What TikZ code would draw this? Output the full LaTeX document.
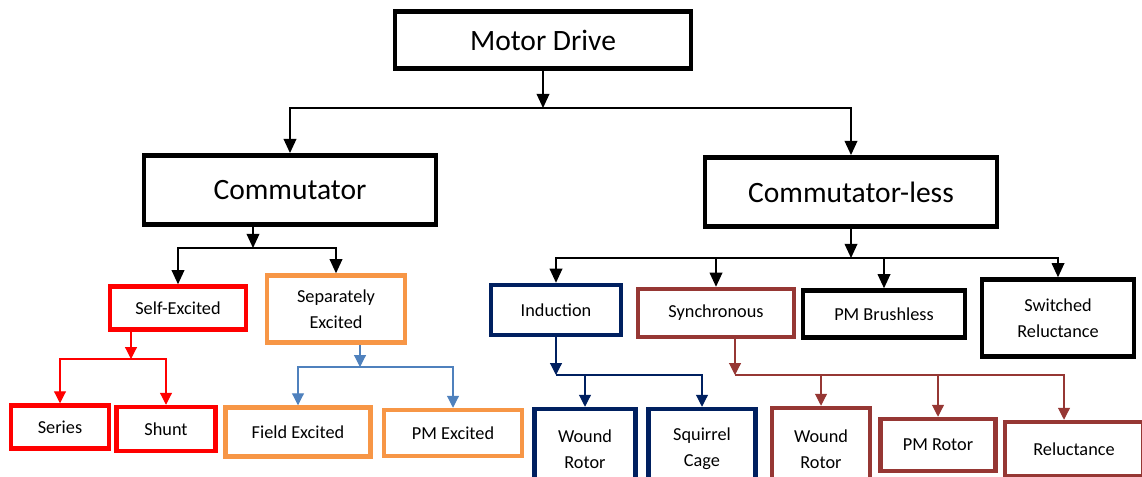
\documentclass[tikz,border=0pt]{standalone}
\usepackage{fontspec}
\setmainfont{Carlito}
\usetikzlibrary{arrows.meta}
\definecolor{selfred}{RGB}{255,0,0}
\definecolor{seporange}{RGB}{247,150,70}
\definecolor{sepblue}{RGB}{79,129,189}
\definecolor{indnavy}{RGB}{0,32,96}
\definecolor{synbrown}{RGB}{150,55,52}
\begin{document}
\begin{tikzpicture}[x=0.025cm,y=-0.025cm,
  bigbox/.style 2 args={draw,line width=3.5pt,inner sep=0pt,align=center,minimum width=#1*0.025cm,minimum height=#2*0.025cm,font=\fontsize{21}{25}\selectfont},
  smallbox/.style n args={3}{draw=#3,line width=3.2pt,inner sep=0pt,align=center,minimum width=#1*0.025cm,minimum height=#2*0.025cm,font=\fontsize{13}{18.5}\selectfont},
  blink/.style={line width=1pt,-{Triangle[length=10pt,width=9pt]}},
  clink/.style={draw=#1,line width=0.8pt,-{Triangle[length=8.5pt,width=8.5pt]}}]
\clip (0,0) rectangle (1142,476);
\node[bigbox={296}{57}] (drive) at (543,40) {Motor Drive};
\node[bigbox={292}{69}] (comm) at (290,190) {Commutator};
\node[bigbox={292}{69}] (cless) at (851,192) {Commutator-less};
\node[smallbox={136}{43}{selfred}] (self) at (178,308) {Self-Excited};
\node[smallbox={138}{67}{seporange}] (sep) at (336,309) {Separately\\Excited};
\node[smallbox={98}{43}{selfred}] (series) at (60,427) {Series};
\node[smallbox={99}{44}{selfred}] (shunt) at (166,429) {Shunt};
\node[smallbox={145}{49}{seporange}] (field) at (298,432) {Field Excited};
\node[smallbox={138}{46}{seporange}] (pmex) at (453,433) {PM Excited};
\node[smallbox={130}{50}{indnavy}] (ind) at (556,310) {Induction};
\node[smallbox={156}{48}{synbrown}] (syn) at (716,313) {Synchronous};
\node[smallbox={162}{47}{black}] (pmb) at (884,314) {PM Brushless};
\node[smallbox={152}{77}{black}] (swr) at (1058,318) {Switched\\Reluctance};
\node[smallbox={101}{80}{indnavy}] (wound1) at (585,449) {Wound\\Rotor};
\node[smallbox={107}{80}{indnavy}] (cage) at (702,449) {Squirrel\\Cage};
\node[smallbox={98}{82}{synbrown}] (wound2) at (821,449) {Wound\\Rotor};
\node[smallbox={115}{52}{synbrown}] (pmr) at (938,445) {PM Rotor};
\node[smallbox={138}{54}{synbrown}] (rel) at (1074,449) {Reluctance};
\coordinate (t1) at (543,108);
\coordinate (t2) at (253,248);
\coordinate (t3) at (851,258);
\coordinate (r1) at (131,359);
\coordinate (s1) at (360,367);
\coordinate (i1) at (556,375);
\coordinate (y1) at (735,375);
\coordinate (y2) at (1064,375);
\draw[blink] (drive) -- (t1);
\draw[blink] (t1) -| (comm);
\draw[blink] (t1) -| (cless);
\draw[blink] (comm.south -| t2) -- (t2);
\draw[blink] (t2) -| (self);
\draw[blink] (t2) -| (sep);
\draw[blink] (cless) -- (t3);
\foreach \n in {ind,syn,pmb,swr}\draw[blink] (t3) -| (\n);
\draw[clink=selfred] (self.south -| r1) -- (r1);
\draw[clink=selfred] (r1) -| (series);
\draw[clink=selfred] (r1) -| (shunt);
\draw[clink=sepblue] (sep.south -| s1) -- (s1);
\draw[clink=sepblue] (s1) -| (field);
\draw[clink=sepblue] (s1) -| (pmex);
\draw[clink=indnavy] (ind) -- (i1);
\draw[clink=indnavy] (i1) -| (wound1);
\draw[clink=indnavy] (i1) -| (cage);
\draw[clink=synbrown] (syn.south -| y1) -- (y1);
\draw[clink=synbrown] (y1) -| (wound2);
\draw[clink=synbrown] (y1) -| (pmr);
\draw[clink=synbrown] (y1) -- (y2) -- (rel.north -| y2);
\end{tikzpicture}
\end{document}
